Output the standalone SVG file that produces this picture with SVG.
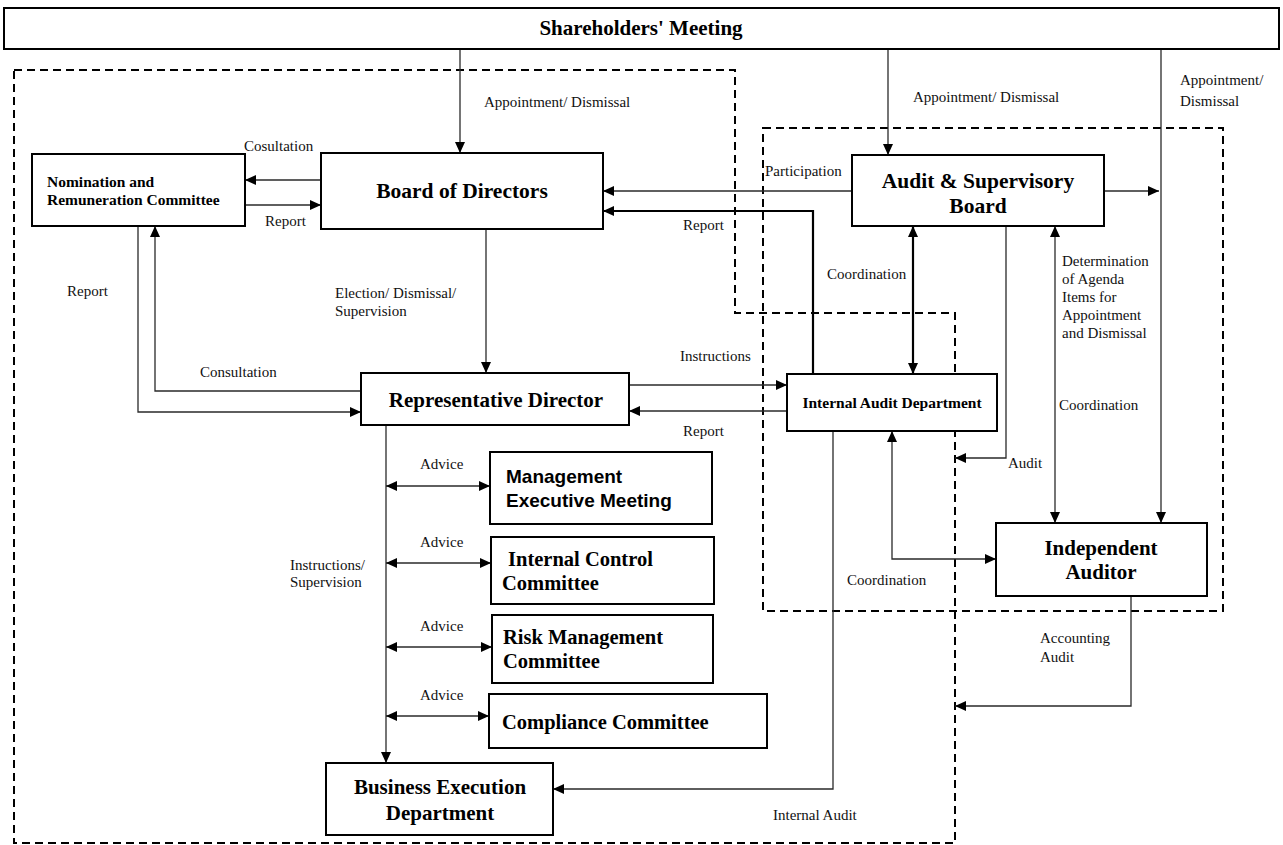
<svg xmlns="http://www.w3.org/2000/svg" width="1283" height="845" viewBox="0 0 1283 845">
<style>
.box{fill:#fff;stroke:#000;stroke-width:2}
.dash{fill:none;stroke:#000;stroke-width:2;stroke-dasharray:8 5}
.c{fill:none;stroke:#2a2a2a;stroke-width:1.3}
.cb{fill:none;stroke:#000;stroke-width:2.2}
.t{font-family:"Liberation Serif","Times New Roman",serif;font-weight:bold;fill:#000}
.s{font-family:"Liberation Sans",Arial,sans-serif;font-weight:bold;fill:#000}
.l{font-family:"Liberation Serif","Times New Roman",serif;font-size:15px;fill:#111}
.mid{text-anchor:middle}
</style>
<defs>
<marker id="ar" markerUnits="userSpaceOnUse" markerWidth="12" markerHeight="10" refX="11" refY="5" orient="auto-start-reverse">
<path d="M0,0 L11,5 L0,10 z" fill="#000"/>
</marker>
</defs>
<rect width="1283" height="845" fill="#fff"/>
<g id="regions">
<path class="dash" d="M14,70 H735 V313 H955 V843 H14 Z"/>
<rect class="dash" x="763" y="128" width="460" height="483"/>
</g>
<g id="connectors">
<path class="c" d="M460,49 V153" marker-end="url(#ar)"/>
<path class="c" d="M888,49 V155" marker-end="url(#ar)"/>
<path class="c" d="M1161,49 V523" marker-end="url(#ar)"/>
<path class="c" d="M1104,191 H1159" marker-end="url(#ar)"/>
<path class="c" d="M852,191 H603" marker-end="url(#ar)"/>
<path class="cb" d="M813,374 V211 H603" marker-end="url(#ar)"/>
<path class="c" d="M321,180 H245" marker-end="url(#ar)"/>
<path class="c" d="M245,205 H321" marker-end="url(#ar)"/>
<path class="c" d="M138,226 V412 H361" marker-end="url(#ar)"/>
<path class="c" d="M361,391 H155 V226" marker-end="url(#ar)"/>
<path class="c" d="M486,229 V373" marker-end="url(#ar)"/>
<path class="c" d="M629,385 H787" marker-end="url(#ar)"/>
<path class="c" d="M787,411 H629" marker-end="url(#ar)"/>
<path class="cb" d="M913,226 V374" marker-start="url(#ar)" marker-end="url(#ar)"/>
<path class="c" d="M1006,226 V458 H955" marker-end="url(#ar)"/>
<path class="c" d="M1055,226 V523" marker-start="url(#ar)" marker-end="url(#ar)"/>
<path class="c" d="M892,431 V559 H996" marker-start="url(#ar)" marker-end="url(#ar)"/>
<path class="c" d="M833,431 V789 H553" marker-end="url(#ar)"/>
<path class="c" d="M1131,596 V706 H955" marker-end="url(#ar)"/>
<path class="c" d="M386,425 V763" marker-end="url(#ar)"/>
<path class="c" d="M386,486 H490" marker-start="url(#ar)" marker-end="url(#ar)"/>
<path class="c" d="M386,563 H491" marker-start="url(#ar)" marker-end="url(#ar)"/>
<path class="c" d="M386,647 H492" marker-start="url(#ar)" marker-end="url(#ar)"/>
<path class="c" d="M386,716 H489" marker-start="url(#ar)" marker-end="url(#ar)"/>
</g>
<g id="labels">
<text class="l" x="484" y="107">Appointment/ Dismissal</text>
<text class="l" x="913" y="102">Appointment/ Dismissal</text>
<text class="l" x="1180" y="85">Appointment/</text>
<text class="l" x="1180" y="106">Dismissal</text>
<text class="l" x="765" y="176">Participation</text>
<text class="l" x="683" y="230">Report</text>
<text class="l" x="244" y="151">Cosultation</text>
<text class="l" x="265" y="226">Report</text>
<text class="l" x="67" y="296">Report</text>
<text class="l" x="200" y="377">Consultation</text>
<text class="l" x="335" y="298">Election/ Dismissal/</text>
<text class="l" x="335" y="316">Supervision</text>
<text class="l" x="680" y="361">Instructions</text>
<text class="l" x="683" y="436">Report</text>
<text class="l" x="827" y="279">Coordination</text>
<text class="l" x="1008" y="468">Audit</text>
<text class="l" x="1062" y="266">Determination</text>
<text class="l" x="1062" y="284">of Agenda</text>
<text class="l" x="1062" y="302">Items for</text>
<text class="l" x="1062" y="320">Appointment</text>
<text class="l" x="1062" y="338">and Dismissal</text>
<text class="l" x="1059" y="410">Coordination</text>
<text class="l" x="847" y="585">Coordination</text>
<text class="l" x="773" y="820">Internal Audit</text>
<text class="l" x="1040" y="643">Accounting</text>
<text class="l" x="1040" y="662">Audit</text>
<text class="l" x="290" y="570">Instructions/</text>
<text class="l" x="290" y="587">Supervision</text>
<text class="l" x="420" y="469">Advice</text>
<text class="l" x="420" y="547">Advice</text>
<text class="l" x="420" y="631">Advice</text>
<text class="l" x="420" y="700">Advice</text>
</g>
<g id="shareholders">
<rect class="box" x="4" y="8" width="1275" height="41"/>
<text class="t mid" x="641" y="35" font-size="21">Shareholders' Meeting</text>
</g>
<g id="nomination">
<rect class="box" x="32" y="154" width="213" height="72"/>
<text class="t" x="47" y="187" font-size="15.5">Nomination and</text>
<text class="t" x="47" y="205" font-size="15.5">Remuneration Committee</text>
</g>
<g id="board">
<rect class="box" x="321" y="153" width="282" height="76"/>
<text class="t mid" x="462" y="198" font-size="21.5">Board of Directors</text>
</g>
<g id="audit-board">
<rect class="box" x="852" y="155" width="252" height="71"/>
<text class="t mid" x="978" y="188" font-size="21.5">Audit &amp; Supervisory</text>
<text class="t mid" x="978" y="213" font-size="21.5">Board</text>
</g>
<g id="rep-director">
<rect class="box" x="361" y="373" width="268" height="52"/>
<text class="t mid" x="496" y="407" font-size="21">Representative Director</text>
</g>
<g id="internal-audit">
<rect class="box" x="787" y="374" width="210" height="57"/>
<text class="t mid" x="892" y="408" font-size="15.5">Internal Audit Department</text>
</g>
<g id="mgmt-meeting">
<rect class="box" x="490" y="452" width="222" height="72"/>
<text class="s" x="506" y="483" font-size="19">Management</text>
<text class="s" x="506" y="507" font-size="19">Executive Meeting</text>
</g>
<g id="internal-control">
<rect class="box" x="491" y="537" width="223" height="67"/>
<text class="t" x="508" y="566" font-size="20.5">Internal Control</text>
<text class="t" x="502" y="590" font-size="20.5">Committee</text>
</g>
<g id="risk">
<rect class="box" x="492" y="615" width="221" height="68"/>
<text class="t" x="503" y="644" font-size="20.5">Risk Management</text>
<text class="t" x="503" y="668" font-size="20.5">Committee</text>
</g>
<g id="compliance">
<rect class="box" x="489" y="694" width="278" height="54"/>
<text class="t" x="502" y="729" font-size="20.5">Compliance Committee</text>
</g>
<g id="business">
<rect class="box" x="326" y="763" width="227" height="72"/>
<text class="t mid" x="440" y="794" font-size="21">Business Execution</text>
<text class="t mid" x="440" y="820" font-size="21">Department</text>
</g>
<g id="independent">
<rect class="box" x="996" y="523" width="211" height="73"/>
<text class="t mid" x="1101" y="555" font-size="21">Independent</text>
<text class="t mid" x="1101" y="579" font-size="21">Auditor</text>
</g>
</svg>
